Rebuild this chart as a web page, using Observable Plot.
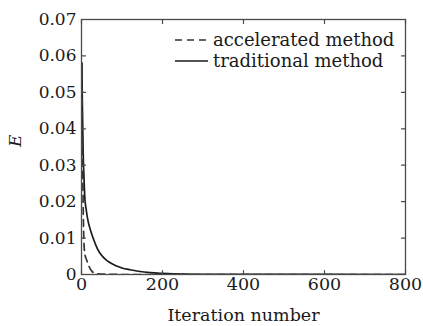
<!DOCTYPE html>
<html>
<head>
<meta charset="utf-8">
<script src="https://cdn.jsdelivr.net/npm/d3@7"></script>
<script src="https://cdn.jsdelivr.net/npm/@observablehq/plot@0.6"></script>
<style>
  html, body { margin: 0; padding: 0; background: #fff; }
  #chart { width: 423px; height: 326px; }
  svg { font-family: "DejaVu Serif", serif; }
</style>
</head>
<body>
<div id="chart"></div>
<script>
// Data
const tradIter = [1, 2, 3, 4, 6, 8, 12, 16, 20, 25, 30, 40, 50, 60, 70, 80, 90, 100, 120, 140, 170, 200, 250, 300, 400, 600, 800];
const tradE    = [0.058, 0.048, 0.040, 0.034, 0.027, 0.0215, 0.0175, 0.0148, 0.0130, 0.0112, 0.0096, 0.0069, 0.0052, 0.0041, 0.0033, 0.0027, 0.0022, 0.0018, 0.0013, 0.0009, 0.0005, 0.0003, 0.0001, 0.00005, 0.00002, 0.00001, 0];

const accIter = [1, 2, 3, 4, 5, 6, 8, 10, 12, 16, 20, 25, 30, 40, 60, 100, 800];
const accE    = [0.058, 0.042, 0.030, 0.020, 0.013, 0.0090, 0.0058, 0.0048, 0.0042, 0.0030, 0.0019, 0.0010, 0.0005, 0.0002, 0.0001, 0, 0];

const xTicks = [0, 200, 400, 600, 800];
const yTicks = [0, 0.01, 0.02, 0.03, 0.04, 0.05, 0.06, 0.07];
const seriesNames = ["accelerated method", "traditional method"];
const yLabel = "E";
const xLabel = "Iteration number";

const trad = tradIter.map((x, i) => ({x, y: tradE[i]}));
const acc = accIter.map((x, i) => ({x, y: accE[i]}));

const ink = "#1a1a1a";
const frameColor = "#4a4a4a";

const yFmt = d => d === 0 ? "0" : d3.format(".2f")(d);

const plot = Plot.plot({
  width: 423,
  height: 326,
  marginLeft: 81,
  marginRight: 18,
  marginTop: 19,
  marginBottom: 52,
  style: {fontFamily: "DejaVu Serif, serif", fontSize: "17px", color: ink, background: "#fff"},
  x: {domain: [0, 800]},
  y: {domain: [0, 0.07]},
  marks: [
    Plot.line(trad, {x: "x", y: "y", stroke: ink, strokeWidth: 1.7, curve: "monotone-x", clip: true}),
    Plot.line(acc, {x: "x", y: "y", stroke: "#333", strokeWidth: 1.7, strokeDasharray: "7,5", curve: "monotone-x", clip: true}),
    Plot.frame({stroke: frameColor, strokeWidth: 1.3}),
    Plot.axisX({ticks: xTicks, tickSize: 0, tickPadding: 3, tickFormat: d => String(d), fontSize: 17.5, label: null}),
    Plot.axisY({ticks: yTicks, tickSize: 0, tickPadding: 5, tickFormat: yFmt, fontSize: 17, label: null}),
    // inward ticks
    Plot.vector(xTicks, {x: d => d, frameAnchor: "bottom", length: 4, rotate: 0, anchor: "start", stroke: frameColor, strokeWidth: 1.2, shape: "spike", r: 0}),
    Plot.vector(xTicks, {x: d => d, frameAnchor: "top", length: 4, rotate: 180, anchor: "start", stroke: frameColor, strokeWidth: 1.2, shape: "spike", r: 0}),
    Plot.vector(yTicks, {y: d => d, frameAnchor: "left", length: 4, rotate: 90, anchor: "start", stroke: frameColor, strokeWidth: 1.2, shape: "spike", r: 0}),
    Plot.vector(yTicks, {y: d => d, frameAnchor: "right", length: 4, rotate: -90, anchor: "start", stroke: frameColor, strokeWidth: 1.2, shape: "spike", r: 0}),
    Plot.text([xLabel], {text: d => d, frameAnchor: "bottom", dy: 46, fontSize: 17.5, fill: ink}),
    Plot.text([yLabel], {text: d => d, frameAnchor: "left", dx: -66, rotate: -90, fontSize: 17, fontStyle: "italic", fill: ink})
  ]
});

document.getElementById("chart").appendChild(plot);

// In-plot legend, placed in the upper right like the reference
const svg = d3.select(plot);
const legend = svg.append("g")
  .attr("font-family", "DejaVu Serif, serif")
  .attr("font-size", 18)
  .attr("text-anchor", "start")
  .attr("fill", ink);
const rows = [
  {name: seriesNames[0], dash: "7,5", stroke: "#333"},
  {name: seriesNames[1], dash: null, stroke: ink}
];
rows.forEach((r, i) => {
  const cy = 40 + i * 21;
  legend.append("line")
    .attr("x1", 175).attr("x2", 208).attr("y1", cy).attr("y2", cy)
    .attr("stroke", r.stroke).attr("stroke-width", 1.7)
    .attr("stroke-dasharray", r.dash);
  legend.append("text").attr("x", 213).attr("y", cy + 5.5).attr("text-anchor", "start").text(r.name);
});
</script>
</body>
</html>
